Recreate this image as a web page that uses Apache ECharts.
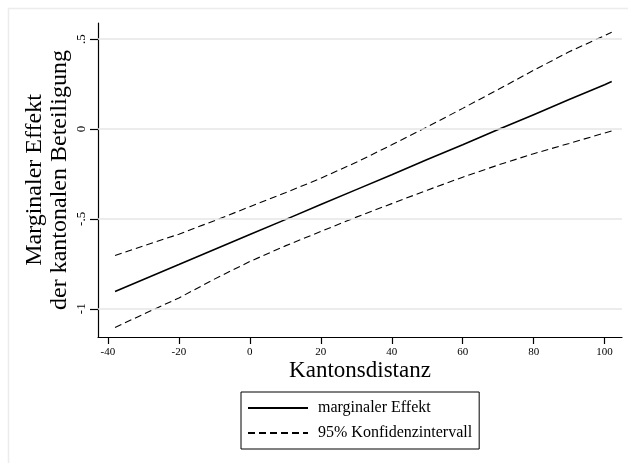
<!DOCTYPE html>
<html>
<head>
<meta charset="utf-8">
<script src="https://cdn.jsdelivr.net/npm/echarts@6/dist/echarts.min.js"></script>
<style>html,body{margin:0;padding:0;background:#fff}#c{width:628px;height:463px}</style>
</head>
<body>
<div id="c"></div>
<script>
const xValues = [-38, -30, -20, -10, 0, 10, 20, 30, 40, 50, 60, 70, 80, 90, 100, 102];
const effect = [-0.904, -0.837, -0.754, -0.670, -0.587, -0.504, -0.420, -0.337, -0.254, -0.170, -0.087, -0.003, 0.080, 0.164, 0.247, 0.264];
const upperCI = [-0.704, -0.650, -0.585, -0.510, -0.432, -0.355, -0.274, -0.185, -0.088, 0.012, 0.115, 0.220, 0.327, 0.430, 0.520, 0.538];
const lowerCI = [-1.104, -1.030, -0.940, -0.835, -0.737, -0.650, -0.570, -0.490, -0.415, -0.340, -0.268, -0.200, -0.137, -0.080, -0.022, -0.011];
const xTicks = [-40, -20, 0, 20, 40, 60, 80, 100];
const yTicks = [-1, -0.5, 0, 0.5];
const nameEffect = 'marginaler Effekt';
const nameCI = '95% Konfidenzintervall';

const FONT = '"Liberation Serif", "Times New Roman", serif';
const pair = (ys) => xValues.map((x, i) => [x, ys[i]]);

const chart = echarts.init(document.getElementById('c'), null, {renderer: 'canvas'});
chart.setOption({
  animation: false,
  backgroundColor: '#ffffff',
  graphic: [{
    type: 'rect', left: 6, top: 6, shape: {width: 700, height: 500},
    style: {fill: 'none', stroke: '#ececec', lineWidth: 1.5}, silent: true
  }],
  grid: {left: 98, right: 6, top: 23, bottom: 126},
  xAxis: {
    type: 'value', min: -42.8, max: 104.9,
    name: 'Kantonsdistanz', nameLocation: 'middle', nameGap: 22, nameMoveOverlap: false,
    nameTextStyle: {fontFamily: FONT, fontSize: 23, color: '#000'},
    axisLine: {show: true, onZero: false, lineStyle: {color: '#000', width: 1.2}},
    axisTick: {show: true, length: 7, customValues: xTicks, lineStyle: {color: '#000', width: 1.2}},
    axisLabel: {customValues: xTicks, margin: 10, fontFamily: FONT, fontSize: 11, color: '#000'},
    splitLine: {show: false}
  },
  yAxis: {
    type: 'value', min: -1.157, max: 0.59,
    name: 'Marginaler Effekt\nder kantonalen Beteiligung', nameLocation: 'middle', nameGap: 26, nameRotate: 90,
    nameMoveOverlap: false,
    nameTextStyle: {fontFamily: FONT, fontSize: 24, lineHeight: 25, color: '#000'},
    axisLine: {show: true, onZero: false, lineStyle: {color: '#000', width: 1.2}},
    axisTick: {show: true, length: 8, customValues: yTicks, lineStyle: {color: '#000', width: 1.2}},
    axisLabel: {customValues: yTicks, rotate: 90, margin: 10, fontFamily: FONT, fontSize: 13, color: '#000',
      formatter: (v) => String(v).replace('0.', '.')},
    splitLine: {show: false}
  },
  legend: {
    orient: 'vertical', left: 241, top: 392,
    data: [nameEffect, nameCI],
    borderColor: '#000', borderWidth: 1, borderRadius: 0,
    padding: [8, 7, 8, 6], itemWidth: 60, itemHeight: 14, itemGap: 9,
    itemStyle: {color: 'rgba(0,0,0,0)', borderWidth: 0, opacity: 0},
    textStyle: {fontFamily: FONT, fontSize: 16, color: '#000', padding: [0, 0, 0, 5]}
  },
  series: [
    {
      name: 'grid', type: 'line', data: [], silent: true,
      markLine: {
        silent: true, symbol: 'none', label: {show: false},
        lineStyle: {color: '#e6e6e6', width: 1.5, type: 'solid'},
        data: yTicks.map(v => ({yAxis: v}))
      }
    },
    {
      name: nameEffect, type: 'line', data: pair(effect), showSymbol: false, symbol: 'none',
      lineStyle: {color: '#000', width: 1.6, type: 'solid'}, itemStyle: {color: '#000'}, z: 3
    },
    {
      name: nameCI, type: 'line', data: pair(upperCI), showSymbol: false, symbol: 'none',
      lineStyle: {color: '#000', width: 1.1, type: [7, 4]}, itemStyle: {color: '#000'}, z: 3
    },
    {
      name: nameCI, type: 'line', data: pair(lowerCI), showSymbol: false, symbol: 'none',
      lineStyle: {color: '#000', width: 1.1, type: [7, 4]}, itemStyle: {color: '#000'}, z: 3
    }
  ]
});
</script>
</body>
</html>
